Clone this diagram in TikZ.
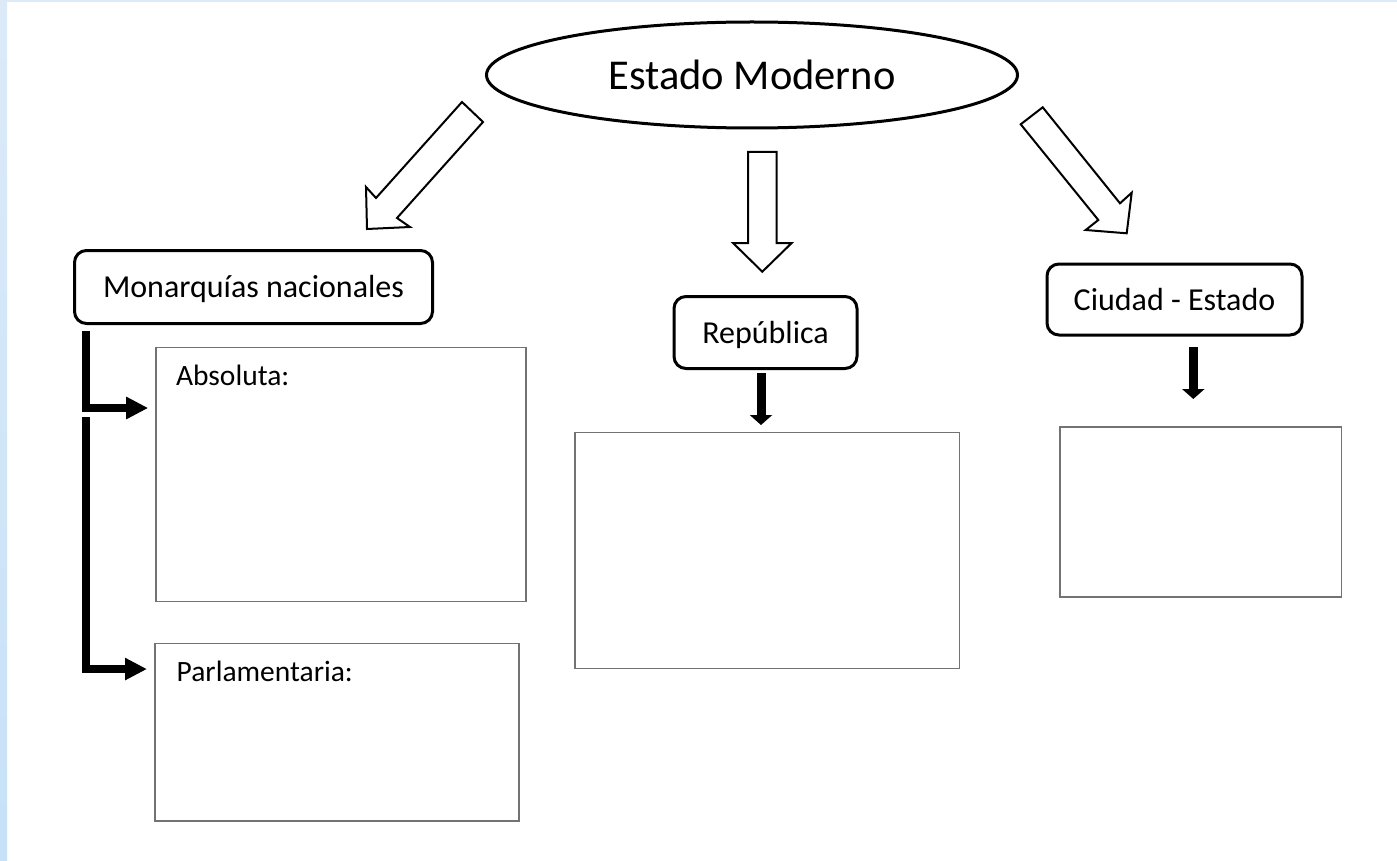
\documentclass[tikz,border=0pt]{standalone}
\usepackage{fontspec}
\setmainfont{Carlito}
\usetikzlibrary{shapes.geometric,arrows.meta,calc}
\definecolor{stripA}{HTML}{DCEAF8}
\definecolor{stripB}{HTML}{E4F1FC}
\definecolor{stripC}{HTML}{C6E1F8}
\begin{document}
\begin{tikzpicture}[x=1pt,y=-1pt,
  every node/.style={outer sep=0pt},
  rbox/.style={draw, line width=3pt, rounded corners=12pt, font=\fontsize{32}{38}\selectfont, text height=21pt, text depth=0pt, inner sep=0pt},
  tbox/.style={draw=black!55, line width=1.6pt, inner sep=0pt},
  hollow/.style={draw, line width=2pt, fill=white, line join=miter},
  blk/.style={line width=9pt, -{Triangle[width=22pt,length=10pt]}},
  brk/.style={line width=8pt, line join=miter, -{Triangle[width=21pt,length=22pt]}},
  lbl/.style={font=\fontsize{29.5}{35}\selectfont, inner sep=0pt, anchor=base west}
]
\fill[white] (0,0) rectangle (1397,861);
\shade[top color=stripA, middle color=stripB, bottom color=stripC] (0,0) rectangle (7,861);
\fill[stripA] (0,0) rectangle (1397,2.5);
\useasboundingbox (0,0) rectangle (1397,861);

% main ellipse
\node[ellipse, draw, line width=3pt, minimum width=531pt, minimum height=106pt,
      font=\fontsize{42.5}{50}\selectfont, text height=30pt, text depth=0pt, inner sep=0pt]
      (em) at (752,75) {Estado Moderno};

% hollow block arrows
\draw[hollow] (462,102) -- (376,198) -- (366,187) -- (367,229) -- (410,227) -- (397,218) -- (483,122) -- cycle;
\draw[hollow] (748,152) -- (748,243) -- (733,243) -- (762.3,271.7) -- (791.7,243) -- (776.7,243) -- (776.7,152) -- cycle;
\draw[hollow] (1020.7,124.3) -- (1098.3,220) -- (1085.7,230) -- (1126.7,233.3) -- (1131.7,192.7) -- (1120,203.3) -- (1042.7,107.3) -- cycle;

% rounded boxes
\node[rbox, minimum width=358pt, minimum height=73pt] (mon) at (253.5,287) {Monarquías nacionales};
\node[rbox, minimum width=183pt, minimum height=72pt] (rep) at (765.5,332.5) {República};
\node[rbox, minimum width=255pt, minimum height=71pt] (ciu) at (1174.5,299.5) {Ciudad - Estado};

% thin boxes
\node[tbox, minimum width=370pt, minimum height=254pt] (abs) at (340.7,474.3) {};
\node[tbox, minimum width=364pt, minimum height=177.7pt] (parl) at (337,732.2) {};
\node[tbox, minimum width=384.3pt, minimum height=236pt] (repb) at (767.2,550.3) {};
\node[tbox, minimum width=281.7pt, minimum height=170pt] (ciub) at (1200.8,511.7) {};

\node[lbl] (abst) at ($(abs.north west)+(20.3,37.7)$) {Absoluta:};
\node[lbl] (parlt) at ($(parl.north west)+(21.7,37.7)$) {Parlamentaria:};

% black arrows
\draw[blk] ($(rep.south)+(-4.5,4.5)$) -- ($(repb.north)+(-6.2,-7.3)$);
\draw[blk] ($(ciu.south)+(18.8,12)$) -- ($(ciub.north)+(-7.5,-27.7)$);

% bracket arrows
\draw[brk] ($(mon.south west)+(11.5,7.5)$) |- ($(abs.north west)+(-7.5,60.7)$);
\draw[brk] ($(mon.south west)+(11,93.5)$) |- ($(parl.north west)+(-8,25.7)$);
\end{tikzpicture}
\end{document}
